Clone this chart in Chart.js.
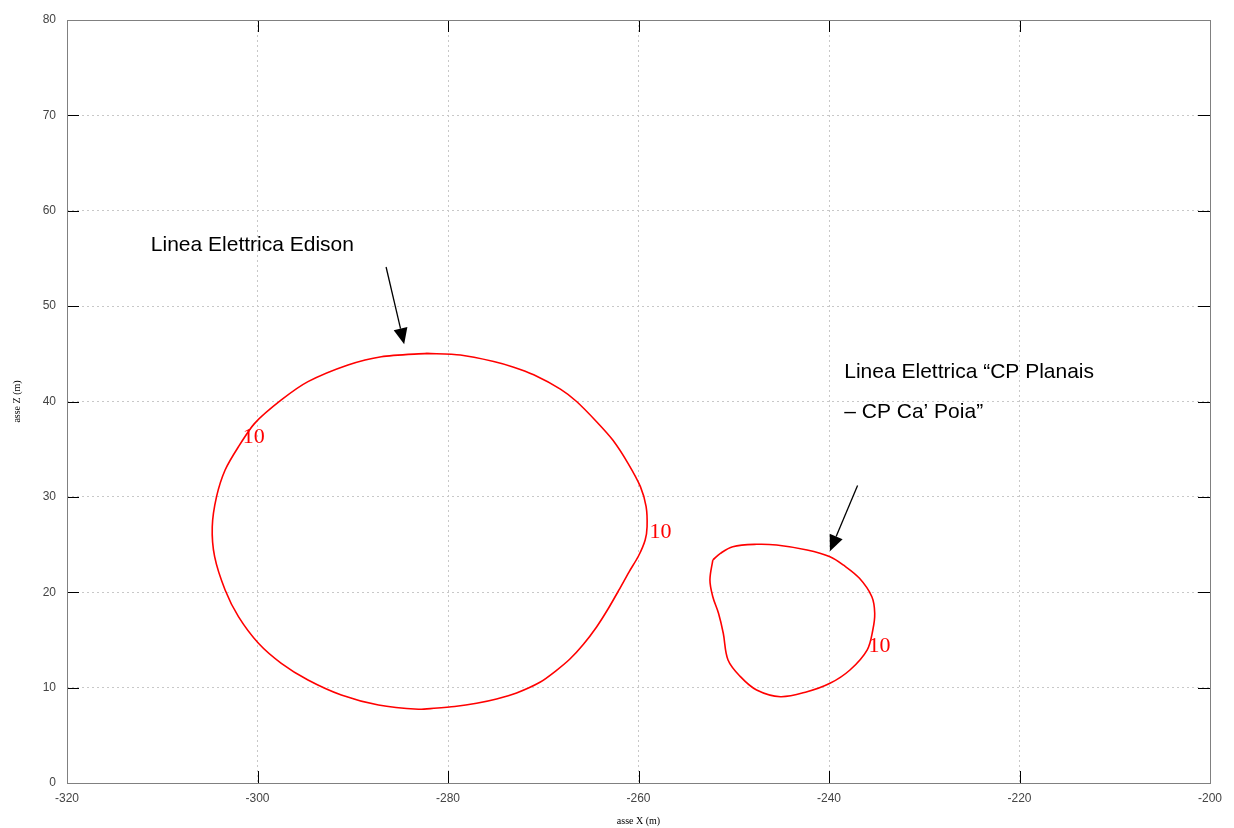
<!DOCTYPE html>
<html>
<head>
<meta charset="utf-8">
<script src="https://cdn.jsdelivr.net/npm/chart.js@4/dist/chart.umd.min.js"></script>
<style>
  html, body { margin: 0; padding: 0; background: #fff; }
  #wrap { width: 1234px; height: 828px; position: relative; }
</style>
</head>
<body>
<div id="wrap"><canvas id="chart" width="1234" height="828"></canvas></div>
<script>
// contour "10" of the Edison line (x, z in metres)
const edisonX = [-282.2, -278.7, -275.2, -273.1, -271.0, -268.2, -266.5, -264.4, -262.7, -261.1,
    -259.8, -259.2, -259.1, -259.3, -260.0, -261.0, -262.05, -263.2, -264.4, -265.8,
    -267.2, -268.7, -270.3, -272.8, -274.9, -277.0, -279.3, -281.5, -283.1, -287.3,
    -291.2, -294.7, -297.5, -299.9, -302.0, -303.4, -304.5, -304.75, -304.3, -303.4,
    -302.0, -300.3, -297.5, -294.7, -290.5, -287.0, -282.2];
const edisonZ = [45.05, 44.88, 44.2, 43.6, 42.8, 41.3, 40.0, 37.88, 35.96, 33.52,
    31.07, 28.97, 26.87, 25.48, 23.80, 22.12, 20.24, 18.24, 16.36, 14.52,
    13.0, 11.74, 10.59, 9.44, 8.81, 8.36, 8.02, 7.83, 7.73, 8.18,
    9.23, 10.80, 12.55, 14.65, 17.44, 20.24, 23.73, 26.87, 30.02, 32.82,
    35.26, 37.71, 40.16, 42.08, 43.83, 44.70, 45.05];

// contour "10" of the CP Planais - CP Ca' Poia line
const cpX = [-252.2, -252.5, -252.2, -251.6, -251.1, -250.6, -249.3, -247.6, -245.1, -242.3,
    -239.9, -237.8, -236.0, -235.4, -235.2, -235.5, -236.8, -238.5, -239.9, -242.3,
    -245.5, -247.6, -250.1, -251.4, -252.2];
const cpZ = [23.38, 21.28, 19.53, 17.79, 15.70, 12.90, 11.15, 9.75, 9.05, 9.57,
    10.45, 11.85, 13.94, 16.04, 17.79, 19.53, 21.46, 22.86, 23.73, 24.43,
    24.95, 25.03, 24.78, 24.08, 23.38];

const contourLabels = [
    { x: -300.4, y: 36.3, text: '10' },
    { x: -257.7, y: 26.3, text: '10' },
    { x: -234.7, y: 14.3, text: '10' }
];

const noteTexts = [
    { x: -311.2, y: 56.4, text: 'Linea Elettrica Edison' },
    { x: -238.4, y: 43.1, text: 'Linea Elettrica \u201cCP Planais' },
    { x: -238.4, y: 38.9, text: '\u2013 CP Ca\u2019 Poia\u201d' }
];

// arrows: from (x1, y1) to tip (x2, y2)
const arrows = [
    { x1: -286.5, y1: 54.1, x2: -284.6, y2: 46.0 },
    { x1: -237.0, y1: 31.2, x2: -239.9, y2: 24.3 }
];

const toPoints = (xs, ys) => xs.map((x, i) => ({ x: x, y: ys[i] }));

// box, inward ticks, labels and arrows, like the gnuplot original
const gnuplotExtras = {
    id: 'gnuplotExtras',
    afterDatasetsDraw(chart) {
        const ctx = chart.ctx;
        const xs = chart.scales.x;
        const ys = chart.scales.y;
        const a = chart.chartArea;

        ctx.save();
        // inward ticks on all four sides
        ctx.strokeStyle = '#000';
        ctx.lineWidth = 1;
        ctx.beginPath();
        xs.ticks.forEach(t => {
            const px = Math.round(xs.getPixelForValue(t.value)) + 0.5;
            ctx.moveTo(px, a.bottom); ctx.lineTo(px, a.bottom - 12);
            ctx.moveTo(px, a.top); ctx.lineTo(px, a.top + 12);
        });
        ys.ticks.forEach(t => {
            const py = Math.round(ys.getPixelForValue(t.value)) + 0.5;
            ctx.moveTo(a.left, py); ctx.lineTo(a.left + 12, py);
            ctx.moveTo(a.right, py); ctx.lineTo(a.right - 12, py);
        });
        ctx.stroke();

        ctx.strokeStyle = '#808080';
        ctx.strokeRect(a.left + 0.5, a.top + 0.5, a.right - a.left, a.bottom - a.top);

        // contour labels
        ctx.fillStyle = '#ff0000';
        ctx.font = '22px "Liberation Serif", "Times New Roman", serif';
        ctx.textAlign = 'center';
        ctx.textBaseline = 'middle';
        contourLabels.forEach(l => {
            ctx.fillText(l.text, xs.getPixelForValue(l.x), ys.getPixelForValue(l.y));
        });

        // notes
        ctx.fillStyle = '#000';
        ctx.font = '21px "Liberation Sans", Arial, sans-serif';
        ctx.textAlign = 'left';
        noteTexts.forEach(n => {
            ctx.fillText(n.text, xs.getPixelForValue(n.x), ys.getPixelForValue(n.y));
        });

        // arrows
        ctx.strokeStyle = '#000';
        ctx.lineWidth = 1.3;
        arrows.forEach(ar => {
            const x1 = xs.getPixelForValue(ar.x1), y1 = ys.getPixelForValue(ar.y1);
            const x2 = xs.getPixelForValue(ar.x2), y2 = ys.getPixelForValue(ar.y2);
            const ang = Math.atan2(y2 - y1, x2 - x1);
            const len = 16, half = 7;
            const bx = x2 - len * Math.cos(ang), by = y2 - len * Math.sin(ang);
            ctx.beginPath();
            ctx.moveTo(x1, y1);
            ctx.lineTo(bx, by);
            ctx.stroke();
            ctx.beginPath();
            ctx.moveTo(x2, y2);
            ctx.lineTo(bx + half * Math.sin(ang), by - half * Math.cos(ang));
            ctx.lineTo(bx - half * Math.sin(ang), by + half * Math.cos(ang));
            ctx.closePath();
            ctx.fill();
        });
        ctx.restore();
    }
};

const tickFont = { family: '"Liberation Sans", Arial, sans-serif', size: 12 };
const titleFont = { family: '"Liberation Serif", "Times New Roman", serif', size: 10 };

new Chart(document.getElementById('chart'), {
    type: 'scatter',
    data: {
        datasets: [
            {
                label: 'Edison',
                data: toPoints(edisonX, edisonZ),
                showLine: true,
                borderColor: '#ff0000',
                borderWidth: 1.6,
                pointRadius: 0,
                tension: 0.25
            },
            {
                label: 'CP Planais - CP Ca\u2019 Poia',
                data: toPoints(cpX, cpZ),
                showLine: true,
                borderColor: '#ff0000',
                borderWidth: 1.6,
                pointRadius: 0,
                tension: 0.35
            }
        ]
    },
    options: {
        responsive: false,
        animation: false,
        layout: { padding: { top: 20, right: 24, left: 0, bottom: 0 } },
        plugins: {
            legend: { display: false },
            tooltip: { enabled: false }
        },
        scales: {
            x: {
                type: 'linear',
                min: -320,
                max: -200,
                afterFit: scale => { scale.height = 45; },
                border: { display: false, dash: [2, 3] },
                grid: { color: '#c8c8c8', drawTicks: false },
                ticks: { stepSize: 20, color: '#444', font: tickFont, padding: 8 },
                title: { display: true, text: 'asse X (m)', color: '#000', font: titleFont, padding: { top: 0, bottom: 1 } }
            },
            y: {
                type: 'linear',
                min: 0,
                max: 80,
                afterFit: scale => { scale.width = 67; },
                border: { display: false, dash: [2, 3] },
                grid: { color: '#c8c8c8', drawTicks: false },
                ticks: { stepSize: 10, color: '#444', font: tickFont, padding: 11 },
                title: { display: true, text: 'asse Z (m)', color: '#000', font: titleFont, padding: { top: 11, bottom: 0 } }
            }
        }
    },
    plugins: [gnuplotExtras]
});
</script>
</body>
</html>
